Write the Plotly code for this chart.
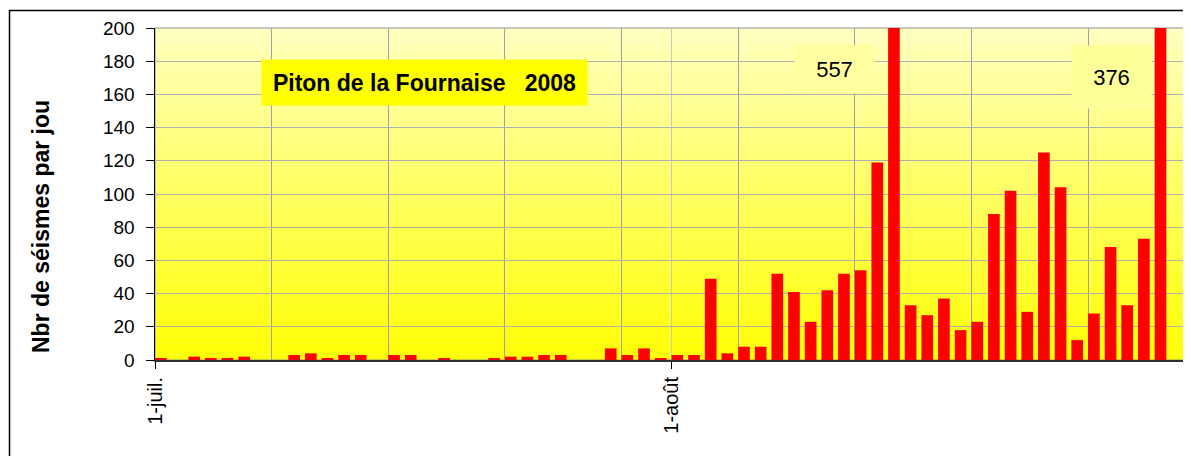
import pandas as pd
import plotly.graph_objects as go

# nombre de seismes par jour, juillet puis aout 2008
juillet = [1, 0, 2, 1, 1, 2, 0, 0, 3, 4, 1, 3, 3, 0, 3, 3, 0, 1, 0, 0,
           1, 2, 2, 3, 3, 0, 0, 7, 3, 7, 1]
aout = [3, 3, 49, 4, 8, 8, 52, 41, 23, 42, 52, 54, 119, 557, 33, 27, 37, 18,
        23, 88, 102, 29, 125, 104, 12, 28, 68, 33, 73, 376]
jours = pd.date_range("2008-07-01", periods=len(juillet) + len(aout), freq="D")
valeurs = juillet + aout

tick_dates = ["2008-07-01", "2008-08-01"]
tick_labels = ["1-juil.", "1-août"]

DAY = 86400000
FONT = "Liberation Sans, Arial, sans-serif"

# la page ajoute 8 px de marge (body) : on compense dans la mise en page
OFF = 8
L, T, R, B = 155 - OFF, 28 - OFF, 3, 96
W, H = 1191 - OFF, 456 - OFF
PW, PH = W - L - R, H - T - B


def px(xp):
    # position horizontale en pixels de page -> coordonnee paper
    return (xp - OFF - L) / PW


def py(yp):
    return (H - B - (yp - OFF)) / PH


fig = go.Figure()
fig.add_trace(go.Bar(x=jours, y=valeurs, width=0.7 * DAY, offset=0,
                     marker=dict(color="#FF0000", line=dict(width=0))))

# fond degrade jaune (bas) -> jaune pale (haut)
shapes = []
n = 60
for i in range(n):
    t = (i + 0.5) / n
    b = int(round(195 * t))
    shapes.append(dict(type="rect", xref="paper", yref="paper", x0=0, x1=1,
                       y0=i / n, y1=(i + 1) / n, layer="below",
                       fillcolor="rgb(255,255,%d)" % b, line=dict(width=0)))
# bord de la zone de trace
shapes.append(dict(type="rect", xref="paper", yref="paper", x0=0, x1=1, y0=0, y1=1,
                   line=dict(color="#909090", width=1), layer="below"))
# cadre exterieur
shapes.append(dict(type="rect", xref="paper", yref="paper", x0=px(9.5), x1=1.05,
                   y0=-0.5, y1=py(10.5), line=dict(color="#000000", width=1.5)))

annotations = [
    dict(text="<b>Nombre de séismes enregistrés au cratère Dolomieu (Région sommitale)</b>",
         xref="paper", yref="paper", x=px(143), y=py(OFF + 0.5),
         xanchor="left", yanchor="bottom", showarrow=False, borderpad=0,
         font=dict(family=FONT, size=27, color="black")),
    dict(text="<b>Nbr de séismes par jou</b>", textangle=-90,
         xref="paper", yref="paper", x=px(41), y=py(227),
         xanchor="center", yanchor="middle",
         showarrow=False, font=dict(family=FONT, size=23, color="black")),
    dict(text="<b>Piton de la Fournaise   2008</b>", xref="paper", yref="paper",
         x=px(424.5), y=py(82.5), xanchor="center", yanchor="middle", showarrow=False,
         width=325, height=45, bgcolor="#FFFF00", borderpad=0,
         font=dict(family=FONT, size=23, color="black")),
    dict(text="557", xref="paper", yref="paper",
         x=px(834), y=py(69.5), xanchor="center", yanchor="middle", showarrow=False,
         width=79, height=47, bgcolor="#FFFFA0", borderpad=0,
         font=dict(family=FONT, size=22, color="black")),
    dict(text="376", xref="paper", yref="paper",
         x=px(1111.5), y=py(77), xanchor="center", yanchor="middle", showarrow=False,
         width=79, height=62, bgcolor="#FFFF99", borderpad=0,
         font=dict(family=FONT, size=22, color="black")),
]

fig.update_layout(
    width=W, height=H,
    margin=dict(l=L, r=R, t=T, b=B),
    paper_bgcolor="white", plot_bgcolor="#FFFF60",
    showlegend=False, bargap=0.3,
    shapes=shapes, annotations=annotations,
    font=dict(family=FONT, color="black"),
)
fig.update_xaxes(
    type="date", range=["2008-07-01", "2008-09-01"],
    tickmode="array", tickvals=tick_dates, ticktext=tick_labels,
    tickangle=-90, tickfont=dict(size=20),
    ticks="outside", ticklen=7, tickcolor="black",
    showline=True, linecolor="#303030", linewidth=2,
    showgrid=True, gridcolor="#C8C8C8", gridwidth=1,
    minor=dict(dtick=7 * DAY, tick0="2008-07-01", showgrid=True,
               gridcolor="#A0A0AA", gridwidth=1),
)
fig.update_yaxes(
    range=[0, 200], dtick=20, tickfont=dict(size=19), ticksuffix="\u2009\u2009",
    ticks="outside", ticklen=8, tickcolor="black",
    showline=True, linecolor="black", linewidth=1,
    showgrid=True, gridcolor="#B0B0B0", gridwidth=1, zeroline=False,
)

fig.write_html("out.html")
